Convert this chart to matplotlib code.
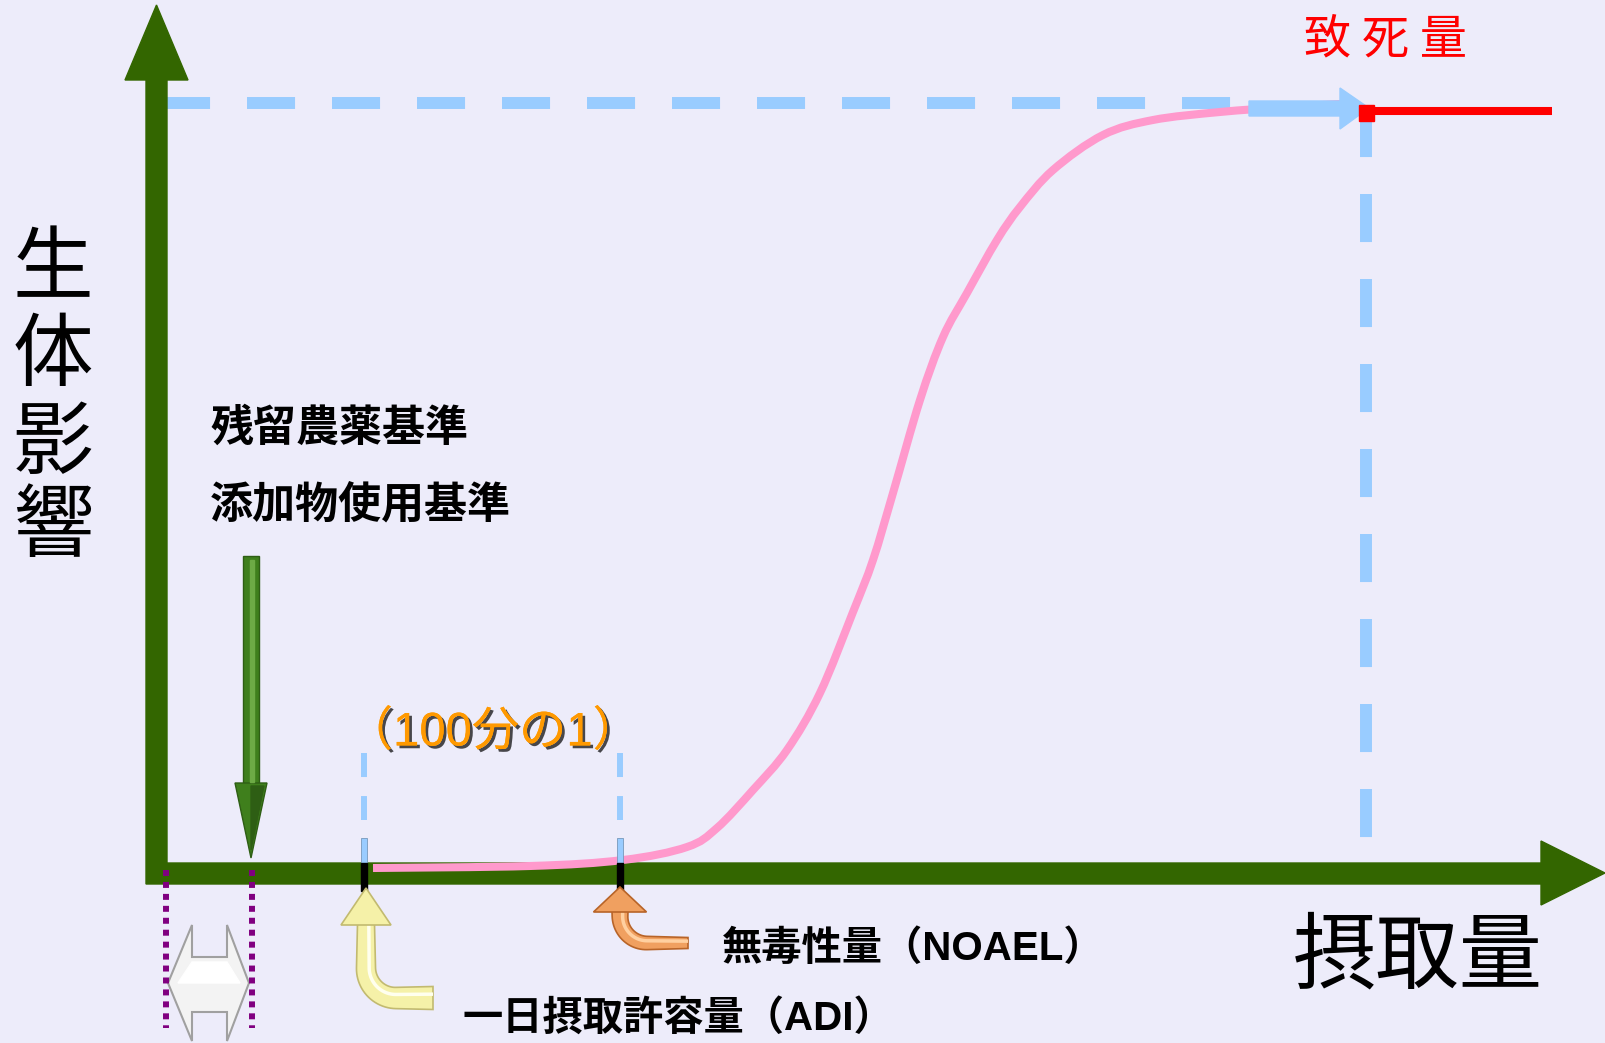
import numpy as np
import matplotlib.pyplot as plt
import matplotlib.patheffects as pe
from matplotlib.patches import Polygon, Rectangle, PathPatch
from matplotlib.path import Path

plt.rcParams['font.family'] = ['Noto Sans CJK JP', 'DejaVu Sans']
plt.rcParams['lines.scale_dashes'] = False

# dose-response curve (pixel coordinates)
curve_x = [373, 530, 623, 687, 717, 753, 787, 820, 853, 873, 893, 920, 943,
           967, 997, 1020, 1053, 1103, 1153, 1220, 1287, 1340]
curve_y = [868, 866, 860, 847, 828, 790, 750, 693, 612, 560, 493, 400, 337,
           293, 240, 207, 170, 135, 120, 112, 107, 104]

# reference points on the intake axis
adi_x = 364
noael_x = 620
lethal_x = 1366
lethal_y = 103

y_label = ['生', '体', '影', '響']
x_label = '摂取量'
lethal_label = '致 死 量'
std_labels = ['残留農薬基準', '添加物使用基準']
ratio_label = '（100分の1）'
noael_label = '無毒性量（NOAEL）'
adi_label = '一日摂取許容量（ADI）'

bg = '#EDECFA'
axis_green = '#336600'
light_blue = '#99CCFF'
latin_cjk = ['Liberation Sans', 'Noto Sans CJK JP']

fig = plt.figure(figsize=(16.05, 10.43), dpi=100, facecolor=bg)
ax = fig.add_axes([0, 0, 1, 1])
ax.set_xlim(0, 1605)
ax.set_ylim(1043, 0)
ax.axis('off')
ax.set_facecolor(bg)

# lethal-dose dashed guides
ax.plot([162, 1240], [lethal_y, lethal_y], color=light_blue, lw=8.6,
        dashes=(34.6, 26.6), solid_capstyle='butt', zorder=2)
ax.add_patch(Polygon([[1249, 101], [1340, 101], [1340, 88], [1369, 108],
                      [1340, 129], [1340, 116], [1249, 116]],
                     closed=True, color=light_blue, zorder=7))
ax.plot([lethal_x, lethal_x], [109, 838], color=light_blue, lw=8.6,
        dashes=(34.6, 26.6), zorder=2)
ax.plot([1370, 1552], [111, 111], color='red', lw=5.8,
        solid_capstyle='butt', zorder=8)
ax.add_patch(Rectangle((1359, 105), 15, 16, color='red', zorder=8))

# axes (green arrows)
ax.add_patch(Polygon([[146, 884], [146, 80], [125, 80], [156.5, 5], [188, 80],
                      [167, 80], [167, 863], [1541, 863], [1541, 841],
                      [1605, 873], [1541, 905], [1541, 884]],
                     closed=True, color=axis_green, zorder=5))

# curve: smooth Catmull-Rom path through the read points
pts = np.column_stack([curve_x, curve_y]).astype(float)
verts = [pts[0]]
codes = [Path.MOVETO]
for i in range(len(pts) - 1):
    p0 = pts[max(i - 1, 0)]
    p1 = pts[i]
    p2 = pts[i + 1]
    p3 = pts[min(i + 2, len(pts) - 1)]
    verts += [p1 + (p2 - p0) / 6, p2 - (p3 - p1) / 6, p2]
    codes += [Path.CURVE4] * 3
ax.add_patch(PathPatch(Path(verts, codes), facecolor='none',
                       edgecolor='#FF99CC', lw=5.8, capstyle='butt',
                       zorder=6))

# small dashed verticals for the 1/100 bracket
for xx in [adi_x, noael_x]:
    ax.plot([xx, xx], [753, 820], color=light_blue, lw=4.3,
            dashes=(17.3, 13.7), zorder=4)
    ax.add_patch(Rectangle((xx - 3, 838), 6, 25, facecolor=light_blue,
                           edgecolor='#7799BB', lw=0.6, zorder=7))
    ax.add_patch(Rectangle((xx - 3, 863), 6, 28, color='black', zorder=7))

# purple dotted boundaries
for xx in [166, 252]:
    ax.plot([xx, xx], [870, 1028], color='#800080', lw=4.3,
            dashes=(4.3, 4.3), zorder=8)

# white double-headed arrow
ax.add_patch(Polygon([[168, 983], [192, 925], [192, 957], [227, 957],
                      [227, 925], [249, 983], [227, 1041], [227, 1012],
                      [192, 1012], [192, 1041]],
                     closed=True, facecolor='#F3F3F3', edgecolor='#A0A0A0',
                     lw=1.5, zorder=7))
ax.add_patch(Polygon([[178, 983], [192, 962], [227, 962], [240, 983]],
                     closed=True, color='white', zorder=8))

# green downward arrow
ax.add_patch(Rectangle((243, 556), 16, 228, facecolor='#3F7F1C',
                       edgecolor='#2E5E14', lw=1, zorder=7))
ax.add_patch(Rectangle((250, 560), 4, 222, color='#6DAA45', zorder=8))
ax.add_patch(Polygon([[235, 783], [267, 783], [251, 858]], closed=True,
                     facecolor='#3F7F1C', edgecolor='#2E5E14', lw=1, zorder=7))
ax.add_patch(Polygon([[251, 786], [264, 786], [251, 850]], closed=True,
                     color='#2E5E14', zorder=8))


# curved pointer arrows (ADI yellow, NOAEL orange), shaft tapers
def curved_arrow(x0, tip_y, head_w, head_h, bend_y, end_x, r, w0, w1,
                 face, edge, light):
    t = np.linspace(np.pi, np.pi / 2, 24)
    cx = np.r_[x0, x0 + r + r * np.cos(t), end_x]
    cy = np.r_[tip_y + head_h - 1, bend_y - r + r * np.sin(t), bend_y]
    seg = np.hypot(np.diff(cx), np.diff(cy))
    s = np.r_[0, np.cumsum(seg)] / seg.sum()
    w = w0 + (w1 - w0) * s
    tx = np.gradient(cx)
    ty = np.gradient(cy)
    n = np.hypot(tx, ty)
    nx, ny = -ty / n, tx / n
    left = np.column_stack([cx + nx * w / 2, cy + ny * w / 2])
    right = np.column_stack([cx - nx * w / 2, cy - ny * w / 2])
    poly = np.vstack([left, right[::-1]])
    ax.add_patch(Polygon(poly, closed=True, facecolor=face, edgecolor=edge,
                         lw=1.2, zorder=9))
    ax.plot(cx - nx * w / 6, cy - ny * w / 6, color=light, lw=2.5,
            solid_capstyle='butt', zorder=9)
    ax.add_patch(Polygon([[x0 - head_w / 2, tip_y + head_h], [x0, tip_y],
                          [x0 + head_w / 2, tip_y + head_h]], closed=True,
                         facecolor=face, edgecolor=edge, lw=1.2, zorder=10))


curved_arrow(366, 888, 50, 37, 998, 433, 30, 17, 23,
             '#F5F1A8', '#C2BA70', '#FFFFEE')
curved_arrow(620, 887, 53, 25, 943, 688, 27, 16, 11,
             '#F0A060', '#B86428', '#FFD0A0')

# text
ax.text(1385, 40, lethal_label, color='red', fontsize=34, ha='center',
        va='center', zorder=10)
for ch, yy in zip(y_label, [270, 357, 445, 528]):
    ax.text(53, yy, ch, fontsize=58, ha='center', va='center', zorder=10)
ax.text(1418, 957, x_label, fontsize=60, ha='center', va='center', zorder=10)
ax.text(210, 428, std_labels[0], fontsize=31, fontweight='bold', ha='left',
        va='center', zorder=10)
ax.text(210, 505, std_labels[1], fontsize=31, fontweight='bold', ha='left',
        va='center', zorder=10)
ax.text(493, 733, ratio_label, color='#FF9900', fontsize=34, ha='center',
        va='center', zorder=10, family=latin_cjk,
        path_effects=[pe.withSimplePatchShadow(offset=(2, -2),
                                               shadow_rgbFace='black',
                                               alpha=0.7),
                      pe.Normal()])
ax.text(722, 949, noael_label, fontsize=29, fontweight='bold', ha='left',
        va='center', zorder=10, family=latin_cjk)
ax.text(463, 1018, adi_label, fontsize=29, fontweight='bold', ha='left',
        va='center', zorder=10, family=latin_cjk)

fig.savefig('out.png', dpi=100, facecolor=bg)
